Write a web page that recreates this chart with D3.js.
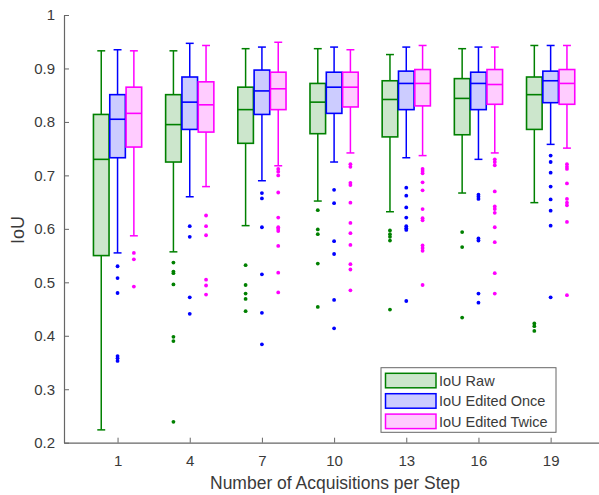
<!DOCTYPE html>
<html>
<head>
<meta charset="utf-8">
<script src="https://cdn.jsdelivr.net/npm/d3@7"></script>
<style>
  html, body { margin: 0; padding: 0; background: #fff; }
  svg { display: block; font-family: "Liberation Sans", Arial, sans-serif; }
</style>
</head>
<body>
<svg id="chart" width="599" height="495"></svg>
<script>
// Acquisition counts per step (x categories)
const categories = ["1", "4", "7", "10", "13", "16", "19"];
const yTicks = [0.2, 0.3, 0.4, 0.5, 0.6, 0.7, 0.8, 0.9, 1];
const seriesNames = ["IoU Raw", "IoU Edited Once", "IoU Edited Twice"];

// Box statistics per category: [lower whisker, Q1, median, Q3, upper whisker]
const rawStats = [
  [0.224, 0.550, 0.730, 0.814, 0.933],
  [0.557, 0.725, 0.795, 0.851, 0.933],
  [0.606, 0.760, 0.823, 0.865, 0.937],
  [0.652, 0.778, 0.837, 0.872, 0.937],
  [0.632, 0.772, 0.842, 0.877, 0.926],
  [0.667, 0.776, 0.844, 0.881, 0.937],
  [0.649, 0.786, 0.851, 0.884, 0.943]
];
const onceStats = [
  [0.555, 0.733, 0.805, 0.851, 0.935],
  [0.660, 0.786, 0.837, 0.884, 0.947],
  [0.690, 0.814, 0.858, 0.897, 0.940],
  [0.725, 0.816, 0.865, 0.893, 0.940],
  [0.733, 0.823, 0.872, 0.895, 0.940],
  [0.730, 0.823, 0.872, 0.893, 0.940],
  [0.758, 0.836, 0.877, 0.895, 0.943]
];
const twiceStats = [
  [0.587, 0.753, 0.816, 0.865, 0.933],
  [0.679, 0.781, 0.832, 0.875, 0.943],
  [0.718, 0.823, 0.862, 0.893, 0.949],
  [0.742, 0.828, 0.865, 0.893, 0.935],
  [0.737, 0.830, 0.872, 0.898, 0.943],
  [0.742, 0.833, 0.870, 0.898, 0.940],
  [0.751, 0.833, 0.872, 0.898, 0.943]
];

// Outlying observations per category
const rawOutliers = [
  [],
  [0.537, 0.520, 0.517, 0.496, 0.398, 0.390, 0.239],
  [0.532, 0.495, 0.479, 0.469, 0.446],
  [0.635, 0.599, 0.590, 0.535, 0.454],
  [0.597, 0.590, 0.585, 0.578, 0.449],
  [0.594, 0.566, 0.434],
  [0.423, 0.418, 0.409]
];
const onceOutliers = [
  [0.530, 0.508, 0.480, 0.362, 0.358, 0.353],
  [0.605, 0.585, 0.472, 0.441],
  [0.667, 0.657, 0.603, 0.515, 0.443, 0.384],
  [0.673, 0.648, 0.577, 0.553, 0.467, 0.414],
  [0.677, 0.662, 0.640, 0.621, 0.605, 0.601, 0.598, 0.465],
  [0.664, 0.660, 0.656, 0.582, 0.578, 0.479, 0.462],
  [0.737, 0.725, 0.705, 0.679, 0.655, 0.634, 0.606, 0.472]
];
const twiceOutliers = [
  [0.555, 0.543, 0.492],
  [0.625, 0.605, 0.588, 0.505, 0.494, 0.477],
  [0.712, 0.707, 0.700, 0.668, 0.621, 0.603, 0.600, 0.596, 0.568, 0.518, 0.481],
  [0.721, 0.716, 0.686, 0.682, 0.649, 0.611, 0.592, 0.570, 0.534, 0.524, 0.485],
  [0.712, 0.708, 0.704, 0.687, 0.672, 0.637, 0.620, 0.616, 0.569, 0.564, 0.559, 0.495],
  [0.730, 0.725, 0.719, 0.670, 0.642, 0.637, 0.630, 0.603, 0.575, 0.517, 0.479],
  [0.721, 0.716, 0.712, 0.685, 0.656, 0.649, 0.644, 0.613, 0.476]
];

const strokeColors = ["#008000", "#0000ff", "#ff00ff"];
const fillColors = ["#cce6cc", "#ccccff", "#ffccff"];

const series = [
  { name: seriesNames[0], stats: rawStats, outliers: rawOutliers, offset: -1 },
  { name: seriesNames[1], stats: onceStats, outliers: onceOutliers, offset: 0 },
  { name: seriesNames[2], stats: twiceStats, outliers: twiceOutliers, offset: 1 }
];

const svg = d3.select("#chart");
const axisColor = "#666";
const textColor = "#3a3a3a";

// Category positions are 1..7 along a linear axis
const x = d3.scaleLinear().domain([0.258, 7.67]).range([64, 599]);
const y = d3.scaleLinear().domain([0.2, 1]).range([442.7, 15]);

const boxW = 0.216;    // box width in category units
const shift = 0.226;   // spacing between the three boxes
const capW = 0.11;

const plot = svg.append("g");

series.forEach((s, si) => {
  const g = plot.append("g");
  const col = strokeColors[si];
  s.stats.forEach((st, i) => {
    const cx = (i + 1) + s.offset * shift;
    const [lo, q1, med, q3, hi] = st;
    // whiskers
    g.append("line").attr("x1", x(cx)).attr("x2", x(cx)).attr("y1", y(q3)).attr("y2", y(hi))
      .attr("stroke", col).attr("stroke-width", 1.5);
    g.append("line").attr("x1", x(cx)).attr("x2", x(cx)).attr("y1", y(q1)).attr("y2", y(lo))
      .attr("stroke", col).attr("stroke-width", 1.5);
    [lo, hi].forEach(v => {
      g.append("line").attr("x1", x(cx - capW / 2)).attr("x2", x(cx + capW / 2))
        .attr("y1", y(v)).attr("y2", y(v)).attr("stroke", col).attr("stroke-width", 1.5);
    });
    // box
    g.append("rect")
      .attr("x", x(cx - boxW / 2)).attr("width", x(cx + boxW / 2) - x(cx - boxW / 2))
      .attr("y", y(q3)).attr("height", y(q1) - y(q3))
      .attr("fill", fillColors[si]).attr("stroke", col).attr("stroke-width", 1.6);
    // median
    g.append("line").attr("x1", x(cx - boxW / 2)).attr("x2", x(cx + boxW / 2))
      .attr("y1", y(med)).attr("y2", y(med)).attr("stroke", col).attr("stroke-width", 1.6);
    // outliers
    g.selectAll(null).data(s.outliers[i]).enter().append("circle")
      .attr("cx", x(cx)).attr("cy", d => y(d)).attr("r", 1.9).attr("fill", col);
  });
});

// Axes
const xAxis = d3.axisBottom(x)
  .tickValues(d3.range(1, categories.length + 1))
  .tickFormat((d, i) => categories[i])
  .tickSizeInner(-5).tickSizeOuter(0).tickPadding(13);
const yAxis = d3.axisLeft(y)
  .tickValues(yTicks)
  .tickFormat(d => d === 1 ? "1" : d3.format(".1f")(d))
  .tickSizeInner(-5).tickSizeOuter(0).tickPadding(9);

const gx = svg.append("g").attr("transform", "translate(0,442.7)").call(xAxis);
const gy = svg.append("g").attr("transform", "translate(64,0)").call(yAxis);
[gx, gy].forEach(g => {
  g.select(".domain").attr("stroke", axisColor).attr("stroke-width", 1.2);
  g.selectAll(".tick line").attr("stroke", axisColor).attr("stroke-width", 1);
  g.selectAll(".tick text").attr("fill", textColor).style("font-size", "15px")
    .style("font-family", "'Liberation Sans', Arial, sans-serif");
});

// Axis titles
svg.append("text").attr("x", 335).attr("y", 488.5).attr("text-anchor", "middle")
  .attr("fill", textColor).style("font-size", "17.5px").text("Number of Acquisitions per Step");
svg.append("text").attr("transform", "translate(24,230) rotate(-90)").attr("text-anchor", "middle")
  .attr("fill", textColor).style("font-size", "18px").text("IoU");

// Legend
const lg = svg.append("g").attr("transform", "translate(381,367.7)");
lg.append("rect").attr("x", 0).attr("y", 0).attr("width", 175).attr("height", 64.6)
  .attr("fill", "#fff").attr("stroke", "#666").attr("stroke-width", 1);
seriesNames.forEach((n, i) => {
  const ry = 5.6 + i * 20.4;
  lg.append("rect").attr("x", 4.5).attr("y", ry).attr("width", 50.5).attr("height", 14.5)
    .attr("fill", fillColors[i]).attr("stroke", strokeColors[i]).attr("stroke-width", 1.5);
  lg.append("text").attr("x", 58).attr("y", ry + 12.5).attr("fill", textColor)
    .style("font-size", "14.5px").text(n);
});
</script>
</body>
</html>
